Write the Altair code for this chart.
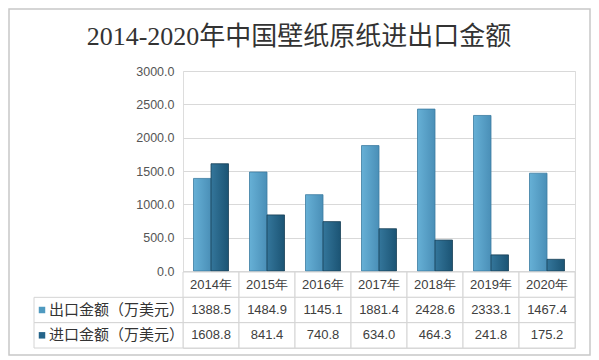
import altair as alt
import pandas as pd

# ---------------- data ----------------
years = ["2014年", "2015年", "2016年", "2017年", "2018年", "2019年", "2020年"]
export_vals = [1388.5, 1484.9, 1145.1, 1881.4, 2428.6, 2333.1, 1467.4]
import_vals = [1608.8, 841.4, 740.8, 634.0, 464.3, 241.8, 175.2]
series = ["出口金额（万美元）", "进口金额（万美元）"]
y_ticks = [0, 500, 1000, 1500, 2000, 2500, 3000]
title_text = "2014-2020年中国壁纸原纸进出口金额"

bars_df = pd.DataFrame({
    "year": years * 2,
    "series": [series[0]] * len(years) + [series[1]] * len(years),
    "value": export_vals + import_vals,
})

row_names = ["年份"] + series
rows = []
for i, yr in enumerate(years):
    rows.append({"year": yr, "row": "年份", "text": yr})
    rows.append({"year": yr, "row": series[0], "text": f"{export_vals[i]:.1f}"})
    rows.append({"year": yr, "row": series[1], "text": f"{import_vals[i]:.1f}"})
table_df = pd.DataFrame(rows)
label_df = pd.DataFrame({"row": series, "series": series})

# ---------------- style ----------------
W, H = 392, 277
BAR_H = 200
NUM_FONT = "Liberation Sans"
CJK_FONT = "Noto Sans CJK SC"
GRID = "#d9d9d9"
CELL = "#d4d4d4"
TXT = "#404040"

x_enc = alt.X("year:N", sort=years,
              scale=alt.Scale(domain=years, paddingInner=0, paddingOuter=0),
              axis=None)
xoff_enc = alt.XOffset("series:N",
                       scale=alt.Scale(domain=series, paddingInner=0, paddingOuter=0.6))
y_bar = alt.Y("value:Q",
              scale=alt.Scale(domain=[0, 3000], range=[BAR_H, 0], nice=False),
              axis=alt.Axis(values=y_ticks, format=".1f", title=None,
                            domain=False, ticks=False, grid=True,
                            gridColor=GRID, gridWidth=1,
                            labelFont=NUM_FONT, labelFontSize=12.5,
                            labelColor="#555555", labelPadding=9))

grad_exp = alt.Gradient(gradient="linear", x1=0, x2=1, y1=0, y2=0,
                        stops=[alt.GradientStop(color="#66b0d6", offset=0),
                               alt.GradientStop(color="#4a8fb7", offset=1)])
grad_imp = alt.Gradient(gradient="linear", x1=0, x2=1, y1=0, y2=0,
                        stops=[alt.GradientStop(color="#34769b", offset=0),
                               alt.GradientStop(color="#1b5474", offset=1)])

bars_exp = alt.Chart(bars_df).transform_filter(
    alt.datum.series == series[0]
).mark_bar(color=grad_exp, stroke="#3c7ca1", strokeWidth=0.8).encode(
    x=x_enc, xOffset=xoff_enc, y=y_bar
)
bars_imp = alt.Chart(bars_df).transform_filter(
    alt.datum.series == series[1]
).mark_bar(color=grad_imp, stroke="#173f56", strokeWidth=0.8).encode(
    x=x_enc, xOffset=xoff_enc, y=y_bar
)
bars_layer = alt.layer(bars_exp, bars_imp)

y_row = alt.Y("row:N", sort=row_names,
              scale=alt.Scale(domain=row_names, range=[BAR_H + 1, H],
                              paddingInner=0, paddingOuter=0),
              axis=None)

cells = alt.Chart(table_df).mark_rect(fill="white", stroke=CELL, strokeWidth=1).encode(
    x=x_enc, y=y_row
)
cell_text = alt.Chart(table_df).mark_text(
    font=NUM_FONT, fontSize=13, color=TXT, baseline="middle", align="center"
).encode(x=x_enc, y=y_row, text="text:N")

label_cells = alt.Chart(label_df).mark_rect(fill="white", stroke=CELL, strokeWidth=1).encode(
    x=alt.value(-149), x2=alt.value(0), y=y_row
)
label_squares = alt.Chart(label_df).mark_square(size=42, opacity=1).encode(
    x=alt.value(-141), y=y_row,
    color=alt.Color("series:N", scale=alt.Scale(domain=series, range=["#4f9ac0", "#24648a"]),
                    legend=None)
)
label_text = alt.Chart(label_df).mark_text(
    font=CJK_FONT, fontSize=15, color="#333333", align="left", baseline="middle"
).encode(x=alt.value(-134), y=y_row, text="series:N")

table_layer = alt.layer(cells, cell_text, label_cells, label_squares, label_text)

frame = alt.Chart(pd.DataFrame({"f": [0]})).mark_rect(
    fillOpacity=0, stroke="#c8c8c8", strokeWidth=1.5
).encode(x=alt.value(-174), x2=alt.value(407), y=alt.value(-62), y2=alt.value(284))

chart = alt.layer(frame, bars_layer, table_layer).resolve_scale(
    y="independent"
).properties(
    width=W, height=H,
    autosize=alt.AutoSizeParams(type="none"),
    padding={"left": 175, "top": 63, "right": 16, "bottom": 8},
    title=alt.TitleParams(title_text, font="Liberation Serif, Noto Sans CJK SC",
                          fontSize=26, fontWeight="normal", color="#333333",
                          anchor="middle", frame="group", dx=-80, offset=-42),
).configure_view(stroke=None).configure(background="white")

chart.save("out.html", embed_options={"renderer": "svg", "actions": False})
